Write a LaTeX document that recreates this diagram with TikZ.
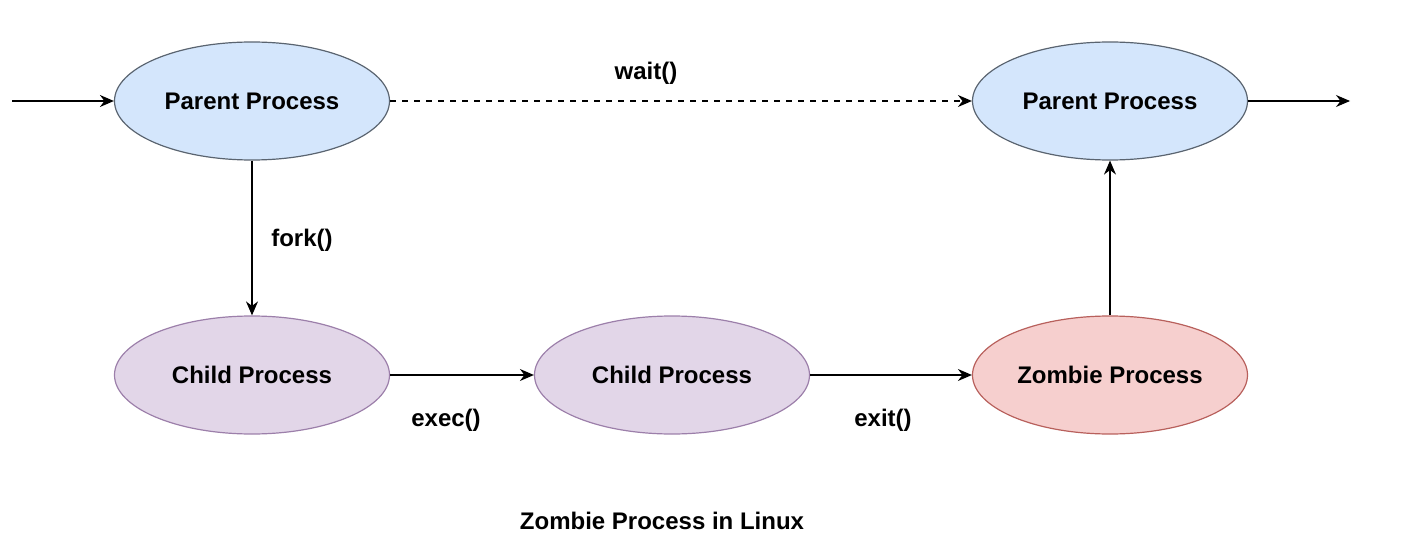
\documentclass[tikz,border=0pt]{standalone}
\usepackage{fontspec}
\setmainfont{Liberation Sans}
\usetikzlibrary{positioning,shapes,arrows.meta}

\tikzset{
	proc/.style={ellipse, draw, line width=0.6pt, minimum width=137.5pt, minimum height=59pt, inner sep=0pt, font=\fontsize{12}{14}\selectfont\bfseries},
	parentproc/.style={proc, fill=parentfill, draw=parentline},
	childproc/.style={proc, fill=childfill, draw=childline},
	zombieproc/.style={proc, fill=zombiefill, draw=zombieline},
	flow/.style={-{Stealth[length=7pt,width=6pt]}, line width=0.6pt},
	lbl/.style={font=\fontsize{12}{14}\selectfont\bfseries}
}
\definecolor{parentfill}{HTML}{D4E6FC}
\definecolor{parentline}{HTML}{5A6470}
\definecolor{childfill}{HTML}{E2D6E8}
\definecolor{childline}{HTML}{9C7FAA}
\definecolor{zombiefill}{HTML}{F6CFCE}
\definecolor{zombieline}{HTML}{B8605C}

\begin{document}
\begin{tikzpicture}[x=0.5pt, y=-0.5pt]
				\useasboundingbox (0,0) rectangle (1409,556);
				\node [parentproc] (parent) at (252,101) {Parent Process};
				\node [parentproc] (parentend) at (1110,101) {Parent Process};
				\node [childproc] (child) at (252,375) {Child Process};
				\node [childproc] (childexec) at (672,375) {Child Process};
				\node [zombieproc] (zombie) at (1110,375) {Zombie Process};
				\coordinate (start) at (12,101);
				\coordinate (finish) at (1350,101);
				\draw [flow] (start) -- (parent);
				\draw [flow, dashed, dash pattern=on 3pt off 3pt] (parent) -- (parentend);
				\draw [flow] (parentend) -- (finish);
				\draw [flow] (parent) -- (child);
				\draw [flow] (child) -- (childexec);
				\draw [flow] (childexec) -- (zombie);
				\draw [flow] (zombie) -- (parentend);
				\node [lbl] (waitlbl) at (646,73) {wait()};
				\node [lbl] (forklbl) at (302,240) {fork()};
				\node [lbl] (execlbl) at (446,420) {exec()};
				\node [lbl] (exitlbl) at (883,420) {exit()};
				\node [lbl] (caption) at (662,521) {Zombie Process in Linux};
			\end{tikzpicture}
\end{document}
